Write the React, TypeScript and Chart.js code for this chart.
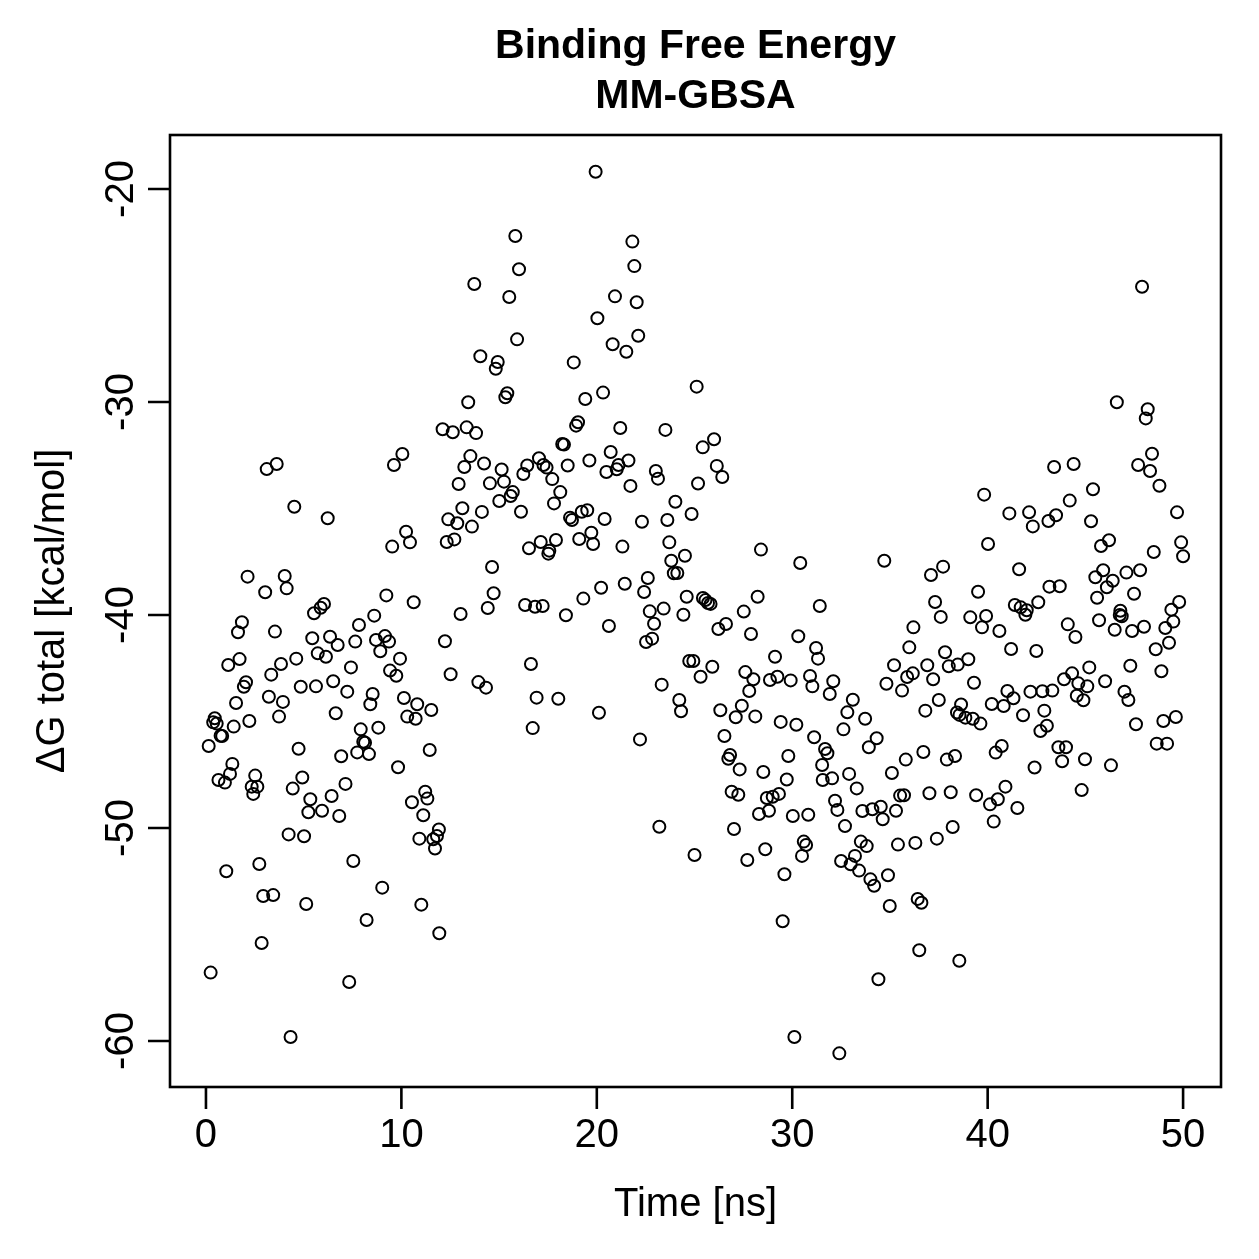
import React, { useEffect, useRef } from "react";
import { Chart, registerables } from "chart.js";

Chart.register(...registerables);

const titleLines = ["Binding Free Energy", "MM-GBSA"];
const xLabel = "Time [ns]";
const yLabel = "ΔG total [kcal/mol]";
const xTicks = [0, 10, 20, 30, 40, 50];
const yTicks = [-60, -50, -40, -30, -20];

const timeNs = [
  0.14, 0.24, 0.37, 0.45, 0.55, 0.64, 0.75, 0.83, 0.97, 1.04,
  1.14, 1.23, 1.35, 1.42, 1.54, 1.64, 1.72, 1.84, 1.94, 2.05,
  2.13, 2.22, 2.34, 2.42, 2.52, 2.63, 2.73, 2.85, 2.93, 3.03,
  3.11, 3.22, 3.34, 3.44, 3.53, 3.62, 3.74, 3.84, 3.94, 4.03,
  4.13, 4.23, 4.33, 4.44, 4.52, 4.62, 4.74, 4.85, 4.93, 5.02,
  5.13, 5.24, 5.34, 5.44, 5.53, 5.63, 5.72, 5.87, 5.94, 6.04,
  6.14, 6.23, 6.35, 6.43, 6.51, 6.64, 6.74, 6.82, 6.92, 7.14,
  7.23, 7.33, 7.42, 7.54, 7.64, 7.74, 7.83, 7.92, 8.05, 8.14,
  8.22, 8.34, 8.41, 8.53, 8.61, 8.70, 8.82, 8.92, 9.02, 9.16,
  9.23, 9.37, 9.42, 9.53, 9.62, 9.74, 9.83, 9.93, 10.05, 10.13,
  10.24, 10.30, 10.44, 10.54, 10.63, 10.73, 10.81, 10.92, 11.02, 11.12,
  11.22, 11.33, 11.45, 11.53, 11.63, 11.72, 11.82, 11.92, 11.94,
  12.11, 12.23, 12.32, 12.40, 12.52, 12.63, 12.71, 12.86, 12.93, 13.03,
  13.12, 13.22, 13.34, 13.42, 13.53, 13.61, 13.73, 13.82, 13.94, 14.04,
  14.12, 14.23, 14.33, 14.42, 14.53, 14.64, 14.72, 14.83, 14.93, 15.01,
  15.13, 15.25, 15.32, 15.42, 15.52, 15.59, 15.70, 15.83, 15.92, 16.02,
  16.12, 16.24, 16.33, 16.44, 16.53, 16.63, 16.72, 16.84, 16.92, 17.04,
  17.13, 17.23, 17.27, 17.43, 17.52, 17.57, 17.72, 17.81, 17.91, 18.03,
  18.13, 18.23, 18.32, 18.42, 18.51, 18.63, 18.73, 18.82, 18.94, 19.04,
  19.10, 19.23, 19.31, 19.41, 19.51, 19.62, 19.72, 19.81, 19.94, 20.03,
  20.11, 20.22, 20.32, 20.40, 20.49, 20.62, 20.71, 20.81, 20.93, 21.02,
  21.11, 21.20, 21.31, 21.43, 21.51, 21.62, 21.72, 21.82, 21.92, 22.04,
  22.12, 22.21, 22.31, 22.42, 22.52, 22.61, 22.71, 22.83, 22.93, 23.02,
  23.13, 23.20, 23.32, 23.42, 23.51, 23.61, 23.71, 23.81, 23.94, 24.02,
  24.12, 24.22, 24.31, 24.43, 24.51, 24.60, 24.73, 24.94, 24.85, 25.00,
  25.11, 25.18, 25.31, 25.42, 25.43, 25.56, 25.69, 25.82, 25.91, 26.00,
  26.14, 26.22, 26.32, 26.42, 26.53, 26.61, 26.73, 26.82, 26.90, 27.02,
  27.11, 27.24, 27.31, 27.42, 27.52, 27.60, 27.70, 27.80, 27.89, 28.01,
  28.11, 28.23, 28.30, 28.40, 28.52, 28.62, 28.70, 28.81, 28.86, 29.00,
  29.12, 29.24, 29.32, 29.41, 29.51, 29.60, 29.72, 29.80, 29.92, 30.03,
  30.11, 30.21, 30.31, 30.41, 30.50, 30.59, 30.71, 30.82, 30.91, 31.03,
  31.12, 31.22, 31.32, 31.41, 31.53, 31.56, 31.68, 31.80, 31.92, 32.04,
  32.10, 32.19, 32.31, 32.41, 32.50, 32.62, 32.70, 32.82, 32.91, 32.99,
  33.10, 33.21, 33.30, 33.42, 33.51, 33.59, 33.73, 33.81, 33.92, 34.00,
  34.10, 34.19, 34.32, 34.41, 34.53, 34.63, 34.71, 34.82, 34.90, 34.99,
  35.10, 35.21, 35.31, 35.41, 35.52, 35.62, 35.72, 35.81, 35.88, 35.99,
  36.17, 36.20, 36.30, 36.42, 36.50, 36.61, 36.71, 36.81, 36.91, 37.02,
  37.10, 37.21, 37.31, 37.40, 37.50, 37.60, 37.72, 37.82, 37.91, 38.01,
  38.11, 38.21, 38.33, 38.43, 38.47, 38.56, 38.55, 38.64, 38.86, 39.01,
  39.11, 39.24, 39.30, 39.41, 39.51, 39.63, 39.71, 39.82, 39.92, 40.02,
  40.12, 40.21, 40.31, 40.41, 40.52, 40.60, 40.72, 40.82, 40.91, 41.01,
  41.11, 41.20, 41.32, 41.39, 41.52, 41.61, 41.69, 41.81, 41.93, 42.00,
  42.12, 42.19, 42.31, 42.40, 42.49, 42.59, 42.70, 42.80, 42.90, 43.03,
  43.11, 43.16, 43.31, 43.40, 43.50, 43.62, 43.69, 43.81, 43.91, 44.01,
  44.10, 44.20, 44.32, 44.40, 44.49, 44.56, 44.64, 44.81, 44.90, 44.98,
  45.10, 45.20, 45.29, 45.39, 45.51, 45.60, 45.70, 45.80, 45.91, 46.01,
  46.10, 46.21, 46.31, 46.40, 46.50, 46.61, 46.76, 46.79, 46.86, 47.00,
  47.10, 47.20, 47.30, 47.39, 47.49, 47.59, 47.70, 47.80, 47.90, 48.00,
  48.09, 48.19, 48.31, 48.41, 48.50, 48.60, 48.65, 48.79, 48.89, 48.99,
  49.09, 49.18, 49.28, 49.40, 49.50, 49.63, 49.69, 49.80, 49.90, 50.00,
];

const deltaG = [
  -46.15, -56.79, -45.04, -44.85, -45.10, -47.75, -45.67, -45.68, -47.87, -52.03,
  -42.35, -47.46, -46.99, -45.24, -44.13, -40.81, -42.07, -40.34, -43.37, -43.16,
  -38.20, -44.98, -48.06, -48.40, -47.54, -48.06, -51.69, -55.40, -53.19, -38.93,
  -33.15, -43.84, -42.80, -53.15, -40.78, -32.91, -44.77, -42.30, -44.08, -38.17,
  -38.75, -50.30, -59.81, -48.15, -34.92, -42.05, -46.28, -43.37, -47.63, -50.39,
  -53.57, -49.26, -48.65, -41.09, -39.92, -43.35, -41.80, -39.66, -49.19, -39.48,
  -41.96, -35.46, -41.02, -48.50, -43.11, -44.61, -41.41, -49.44, -46.63, -47.93,
  -43.60, -57.23, -42.46, -51.55, -41.25, -46.45, -40.47, -45.37, -45.95, -46.00,
  -54.32, -46.53, -44.19, -43.71, -40.03, -41.17, -45.29, -41.70, -52.80, -40.99,
  -39.08, -41.25, -42.61, -36.79, -32.96, -42.85, -47.15, -42.05, -32.44, -43.90,
  -36.09, -44.77, -36.59, -48.79, -39.40, -44.87, -44.19, -50.50, -53.60, -49.40,
  -48.30, -48.62, -46.34, -44.46, -50.53, -50.96, -50.38, -50.07, -54.94,
  -31.28, -41.23, -36.57, -35.51, -42.78, -31.42, -36.45, -35.69, -33.85, -39.95,
  -34.99, -33.05, -31.19, -30.01, -32.54, -35.85, -24.46, -31.46, -43.15, -27.85,
  -35.16, -32.89, -43.41, -39.67, -33.82, -37.75, -38.98, -28.44, -28.12, -34.65,
  -33.17, -33.74, -29.78, -29.59, -25.07, -34.41, -34.23, -22.21, -27.06, -23.77,
  -35.15, -33.38, -39.53, -32.98, -36.87, -42.30, -45.31, -39.61, -43.88, -32.64,
  -36.57, -39.58, -32.96, -33.08, -37.12, -36.98, -33.62, -34.76, -36.48, -43.93,
  -34.23, -31.97, -32.00, -40.01, -32.98, -35.43, -35.54, -28.14, -31.11, -30.95,
  -36.43, -35.15, -39.23, -29.86, -35.08, -32.75, -36.14, -36.67, -19.19, -26.07,
  -44.59, -38.72, -29.56, -35.49, -33.29, -40.52, -32.35, -27.29, -25.04, -33.16,
  -32.96, -31.22, -36.79, -38.53, -27.64, -32.75, -33.94, -22.47, -23.62, -25.32,
  -26.89, -45.84, -35.62, -38.92, -41.27, -38.26, -39.83, -41.11, -40.41, -33.24,
  -33.60, -49.94, -43.27, -39.70, -31.31, -35.54, -36.59, -37.45, -38.04, -34.68,
  -38.03, -43.99, -44.52, -39.99, -37.22, -39.14, -42.16, -42.16, -35.26, -51.27,
  -29.28, -33.83, -42.90, -32.13, -39.20, -39.30, -39.44, -39.48, -42.43, -31.75,
  -33.00, -40.66, -44.47, -33.52, -45.68, -40.42, -46.75, -46.57, -48.30, -50.05,
  -44.80, -48.44, -47.25, -44.26, -39.84, -42.68, -51.50, -43.57, -40.89, -43.02,
  -44.76, -39.14, -49.34, -36.93, -47.37, -51.00, -48.59, -49.19, -43.05, -48.53,
  -41.96, -42.90, -48.40, -45.02, -54.38, -52.17, -47.72, -46.62, -43.07, -49.44,
  -59.81, -45.15, -41.00, -37.56, -51.31, -50.64, -50.80, -49.38, -42.86, -43.35,
  -45.74, -41.55, -42.05, -39.58, -47.04, -47.75, -46.29, -46.49, -43.71, -47.67,
  -43.11, -48.72, -49.15, -60.58, -51.55, -45.37, -49.91, -44.57, -47.46, -51.70,
  -43.98, -51.31, -48.14, -52.00, -50.64, -49.20, -44.87, -50.85, -46.21, -52.41,
  -49.12, -52.71, -45.79, -57.10, -49.00, -49.59, -37.45, -43.23, -52.22, -53.66,
  -47.42, -42.36, -49.19, -50.78, -48.48, -43.55, -48.46, -46.79, -42.91, -41.52,
  -42.74, -40.58, -50.70, -53.33, -55.74, -53.51, -46.43, -44.49, -42.36, -48.37,
  -38.12, -43.02, -39.39, -50.50, -43.99, -40.09, -37.73, -41.75, -46.79, -42.41,
  -48.32, -49.95, -46.62, -44.58, -42.33, -44.69, -56.23, -44.20, -44.82, -42.08,
  -40.11, -44.87, -43.18, -48.46, -38.91, -45.10, -40.58, -34.35, -40.05, -36.67,
  -48.89, -44.18, -49.70, -46.46, -48.65, -40.75, -46.15, -44.27, -48.06, -43.57,
  -35.23, -41.60, -43.91, -39.53, -49.06, -37.85, -39.64, -44.71, -39.99, -39.78,
  -35.18, -43.60, -35.84, -47.16, -41.69, -39.40, -45.45, -43.58, -44.49, -45.20,
  -35.59, -38.67, -43.55, -33.05, -35.32, -46.21, -38.65, -46.87, -43.02, -46.21,
  -40.44, -34.63, -42.74, -32.91, -41.03, -43.79, -43.21, -48.22, -44.00, -46.77,
  -43.35, -42.46, -35.60, -34.10, -38.23, -39.19, -40.25, -36.76, -37.90, -43.11,
  -38.70, -36.49, -47.06, -38.39, -40.69, -30.01, -40.00, -39.80, -40.06, -43.60,
  -38.01, -43.99, -42.38, -40.75, -39.00, -45.13, -32.96, -37.90, -24.59, -40.55,
  -30.77, -30.34, -33.24, -32.43, -37.04, -41.61, -46.04, -33.93, -42.64, -44.98,
  -40.61, -46.04, -41.30, -39.75, -40.31, -44.79, -35.18, -39.39, -36.59, -37.24,
];

const FONT = '"Liberation Sans", Arial, Helvetica, sans-serif';

export default function App() {
  const ref = useRef<HTMLCanvasElement | null>(null);

  useEffect(() => {
    document.body.style.margin = "0";
    const canvas = ref.current;
    if (!canvas) return;

    const points = timeNs.map((t, i) => ({ x: t, y: deltaG[i] }));

    const framePlugin = {
      id: "rFrame",
      afterDraw(chart: any) {
        const { ctx, chartArea: a, scales } = chart;
        const xs = scales.x;
        const ys = scales.y;
        ctx.save();
        ctx.strokeStyle = "#000";
        ctx.lineWidth = 2.6;
        ctx.strokeRect(a.left, a.top, a.right - a.left, a.bottom - a.top);

        const tick = 22;
        ctx.beginPath();
        xTicks.forEach((v) => {
          const px = xs.getPixelForValue(v);
          ctx.moveTo(px, a.bottom);
          ctx.lineTo(px, a.bottom + tick);
        });
        yTicks.forEach((v) => {
          const py = ys.getPixelForValue(v);
          ctx.moveTo(a.left, py);
          ctx.lineTo(a.left - tick, py);
        });
        ctx.stroke();

        ctx.fillStyle = "#000";
        ctx.font = `40px ${FONT}`;
        ctx.textAlign = "center";
        ctx.textBaseline = "alphabetic";
        xTicks.forEach((v) => {
          ctx.fillText(String(v), xs.getPixelForValue(v), a.bottom + 60);
        });
        yTicks.forEach((v) => {
          ctx.save();
          ctx.translate(a.left - 37, ys.getPixelForValue(v));
          ctx.rotate(-Math.PI / 2);
          ctx.fillText(String(v), 0, 0);
          ctx.restore();
        });

        const cx = (a.left + a.right) / 2;
        const cy = (a.top + a.bottom) / 2;
        ctx.fillText(xLabel, cx, a.bottom + 129);
        ctx.save();
        ctx.translate(a.left - 106, cy);
        ctx.rotate(-Math.PI / 2);
        ctx.fillText(yLabel, 0, 0);
        ctx.restore();

        ctx.font = `bold 41px ${FONT}`;
        ctx.fillText(titleLines[0], cx, 58);
        ctx.fillText(titleLines[1], cx, 108);
        ctx.restore();
      },
    };

    const chart = new Chart(canvas, {
      type: "scatter",
      data: {
        datasets: [
          {
            data: points,
            pointStyle: "circle",
            pointRadius: 6,
            pointHoverRadius: 6,
            pointBorderWidth: 2,
            pointBorderColor: "#000",
            pointBackgroundColor: "rgba(0,0,0,0)",
            borderColor: "#000",
            backgroundColor: "rgba(0,0,0,0)",
          },
        ],
      },
      options: {
        responsive: false,
        maintainAspectRatio: false,
        animation: false,
        events: [],
        layout: { padding: { left: 170, right: 38, top: 135, bottom: 172 } },
        plugins: {
          legend: { display: false },
          tooltip: { enabled: false },
          title: { display: false },
        },
        scales: {
          x: { type: "linear", min: -1.84, max: 51.94, display: false },
          y: { type: "linear", min: -62.16, max: -17.465, display: false },
        },
      },
      plugins: [framePlugin],
    });

    return () => chart.destroy();
  }, []);

  return (
    <div style={{ width: 1259, height: 1259, background: "#fff" }}>
      <canvas ref={ref} width={1259} height={1259} style={{ display: "block" }} />
    </div>
  );
}
